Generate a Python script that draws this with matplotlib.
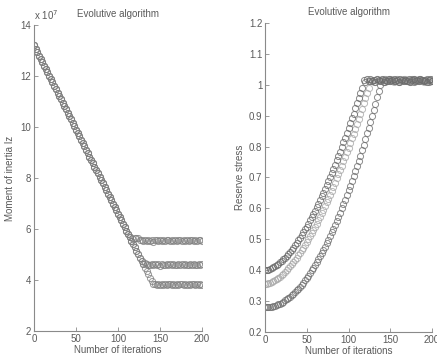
import matplotlib
matplotlib.use("Agg")
import matplotlib.pyplot as plt

plt.rcParams['font.family'] = ['Liberation Sans', 'DejaVu Sans']

iterations = list(range(0, 201, 2))

# ---- left panel: Moment of inertia Iz (x 10^7) ----
l1_slope = [13.20, 13.07, 12.94, 12.80, 12.67, 12.54, 12.41, 12.28, 12.14, 12.01,
            11.88, 11.75, 11.62, 11.48, 11.35, 11.22, 11.09, 10.96, 10.82, 10.69,
            10.56, 10.43, 10.30, 10.16, 10.03, 9.90, 9.77, 9.64, 9.50, 9.37,
            9.24, 9.11, 8.98, 8.84, 8.71, 8.58, 8.45, 8.32, 8.18, 8.05,
            7.92, 7.79, 7.66, 7.52, 7.39, 7.26, 7.13, 7.00, 6.86, 6.73,
            6.60, 6.47, 6.34, 6.20, 6.07, 5.94, 5.81, 5.68, 5.54,
            5.60, 5.64, 5.66, 5.63, 5.58]
l1_plateau = [5.55, 5.52, 5.57, 5.54, 5.58, 5.53, 5.56, 5.51, 5.57, 5.55,
              5.53, 5.58, 5.54, 5.56, 5.52, 5.57, 5.55, 5.53, 5.58, 5.54,
              5.56, 5.52, 5.57, 5.55, 5.53, 5.56, 5.54, 5.58, 5.52, 5.55,
              5.57, 5.53, 5.56, 5.54, 5.57, 5.55, 5.53]

l2_slope = [13.20, 13.07, 12.94, 12.80, 12.67, 12.54, 12.41, 12.28, 12.14, 12.01,
            11.88, 11.75, 11.62, 11.48, 11.35, 11.22, 11.09, 10.96, 10.82, 10.69,
            10.56, 10.43, 10.30, 10.16, 10.03, 9.90, 9.77, 9.64, 9.50, 9.37,
            9.24, 9.11, 8.98, 8.84, 8.71, 8.58, 8.45, 8.32, 8.18, 8.05,
            7.92, 7.79, 7.66, 7.52, 7.39, 7.26, 7.13, 7.00, 6.86, 6.73,
            6.60, 6.47, 6.34, 6.20, 6.07, 5.94, 5.81, 5.68, 5.54, 5.41,
            5.28, 5.15, 5.02, 4.88, 4.75, 4.62,
            4.66, 4.64]
l2_plateau = [4.60, 4.57, 4.62, 4.59, 4.63, 4.58, 4.61, 4.56, 4.62, 4.60,
              4.58, 4.63, 4.59, 4.61, 4.57, 4.62, 4.60, 4.58, 4.63, 4.59,
              4.61, 4.57, 4.62, 4.60, 4.58, 4.61, 4.59, 4.63, 4.57, 4.60,
              4.62, 4.58, 4.61]

l3_slope = [13.20, 13.07, 12.94, 12.80, 12.67, 12.54, 12.41, 12.28, 12.14, 12.01,
            11.88, 11.75, 11.62, 11.48, 11.35, 11.22, 11.09, 10.96, 10.82, 10.69,
            10.56, 10.43, 10.30, 10.16, 10.03, 9.90, 9.77, 9.64, 9.50, 9.37,
            9.24, 9.11, 8.98, 8.84, 8.71, 8.58, 8.45, 8.32, 8.18, 8.05,
            7.92, 7.79, 7.66, 7.52, 7.39, 7.26, 7.13, 7.00, 6.86, 6.73,
            6.60, 6.47, 6.34, 6.20, 6.07, 5.94, 5.81, 5.68, 5.54, 5.41,
            5.28, 5.15, 5.02, 4.88, 4.75, 4.62, 4.49, 4.36, 4.22, 4.09,
            3.96, 3.83]
l3_plateau = [3.83, 3.80, 3.85, 3.82, 3.86, 3.81, 3.84, 3.79, 3.85, 3.83,
              3.81, 3.86, 3.82, 3.84, 3.80, 3.85, 3.83, 3.81, 3.86, 3.82,
              3.84, 3.80, 3.85, 3.83, 3.81, 3.84, 3.82, 3.86, 3.80]

# ---- right panel: Reserve stress ----
r1_rise = [0.400, 0.401, 0.402, 0.404, 0.406, 0.409, 0.412, 0.416, 0.420, 0.425,
           0.430, 0.435, 0.441, 0.447, 0.453, 0.459, 0.466, 0.473, 0.481, 0.489,
           0.497, 0.505, 0.514, 0.523, 0.532, 0.541, 0.551, 0.561, 0.571, 0.582,
           0.593, 0.604, 0.615, 0.627, 0.639, 0.651, 0.663, 0.675, 0.688, 0.701,
           0.714, 0.728, 0.742, 0.756, 0.770, 0.784, 0.799, 0.814, 0.829, 0.844,
           0.859, 0.875, 0.891, 0.907, 0.924, 0.940, 0.957, 0.974, 0.991]
r1_plateau = [1.015, 1.010, 1.018, 1.013, 1.020, 1.011, 1.016, 1.009, 1.019, 1.014,
              1.012, 1.018, 1.010, 1.016, 1.013, 1.020, 1.011, 1.015, 1.018, 1.012,
              1.017, 1.010, 1.019, 1.014, 1.011, 1.016, 1.013, 1.020, 1.010, 1.015,
              1.018, 1.012, 1.016, 1.011, 1.019, 1.014, 1.012, 1.017, 1.010, 1.015,
              1.018, 1.013]

r2_rise = [0.355, 0.356, 0.357, 0.359, 0.361, 0.364, 0.367, 0.371, 0.375, 0.379,
           0.384, 0.389, 0.394, 0.400, 0.406, 0.412, 0.419, 0.426, 0.433, 0.440,
           0.448, 0.456, 0.464, 0.473, 0.482, 0.491, 0.500, 0.510, 0.520, 0.530,
           0.540, 0.551, 0.562, 0.573, 0.584, 0.596, 0.608, 0.620, 0.632, 0.644,
           0.657, 0.670, 0.683, 0.697, 0.710, 0.724, 0.738, 0.752, 0.767, 0.782,
           0.796, 0.812, 0.827, 0.842, 0.858, 0.874, 0.890, 0.906, 0.923, 0.940,
           0.957, 0.974, 0.991]
r2_plateau = [1.012, 1.017, 1.009, 1.015, 1.020, 1.011, 1.016, 1.013, 1.019, 1.010,
              1.014, 1.018, 1.012, 1.016, 1.009, 1.015, 1.019, 1.013, 1.017, 1.011,
              1.015, 1.020, 1.012, 1.016, 1.010, 1.014, 1.018, 1.013, 1.016, 1.011,
              1.019, 1.014, 1.010, 1.017, 1.013, 1.015, 1.011, 1.018]

r3_rise = [0.280, 0.280, 0.281, 0.281, 0.282, 0.284, 0.285, 0.287, 0.290, 0.292,
           0.295, 0.298, 0.302, 0.306, 0.310, 0.314, 0.319, 0.324, 0.329, 0.335,
           0.340, 0.347, 0.353, 0.360, 0.367, 0.375, 0.382, 0.390, 0.399, 0.407,
           0.416, 0.425, 0.435, 0.445, 0.455, 0.465, 0.476, 0.487, 0.498, 0.510,
           0.522, 0.534, 0.547, 0.560, 0.573, 0.586, 0.600, 0.614, 0.628, 0.643,
           0.658, 0.673, 0.689, 0.705, 0.721, 0.737, 0.754, 0.771, 0.789, 0.806,
           0.824, 0.843, 0.861, 0.880, 0.899, 0.919, 0.939, 0.959, 0.979, 1.000]
r3_plateau = [1.014, 1.010, 1.018, 1.012, 1.016, 1.020, 1.011, 1.015, 1.013, 1.019,
              1.010, 1.016, 1.012, 1.018, 1.014, 1.011, 1.017, 1.013, 1.020, 1.010,
              1.015, 1.012, 1.018, 1.014, 1.011, 1.016, 1.013, 1.019, 1.010, 1.015,
              1.012]

left_yticks = [2, 4, 6, 8, 10, 12, 14]
right_yticks = [0.2, 0.3, 0.4, 0.5, 0.6, 0.7, 0.8, 0.9, 1.0, 1.1, 1.2]
right_yticklabels = ['0.2', '0.3', '0.4', '0.5', '0.6', '0.7', '0.8', '0.9', '1', '1.1', '1.2']
xticks = [0, 50, 100, 150, 200]

TEXT = '#5a5a5a'
AXC = '#8a8a8a'
FS = 7

fig = plt.figure(figsize=(4.37, 3.62), dpi=100)
fig.patch.set_facecolor('white')
axL = fig.add_axes([0.0778, 0.0856, 0.3844, 0.8453])
axR = fig.add_axes([0.6064, 0.0829, 0.3822, 0.8536])


def style(ax):
    for s in ['top', 'right']:
        ax.spines[s].set_visible(False)
    for s in ['left', 'bottom']:
        ax.spines[s].set_color(AXC)
        ax.spines[s].set_linewidth(0.8)
    ax.tick_params(direction='in', length=3, width=0.6, colors=AXC,
                   labelcolor=TEXT, labelsize=FS, pad=2)
    ax.set_xlim(0, 200)
    ax.set_xticks(xticks)
    ax.set_xlabel('Number of iterations', fontsize=FS, color=TEXT, labelpad=1)
    ax.set_title('Evolutive algorithm', fontsize=FS, color=TEXT, pad=6)


def draw(ax, ys, color):
    ax.plot(iterations[:len(ys)], ys, linestyle='none', marker='o',
            markersize=4.4, markerfacecolor='none', markeredgecolor=color,
            markeredgewidth=0.7, alpha=0.8)


draw(axL, l1_slope + l1_plateau, '#808080')
draw(axL, l2_slope + l2_plateau, '#808080')
draw(axL, l3_slope + l3_plateau, '#808080')
style(axL)
axL.set_ylim(2, 14)
axL.set_yticks(left_yticks)
axL.set_ylabel('Moment of inertia Iz', fontsize=FS, color=TEXT, labelpad=4)
axL.text(0.0, 1.01, r'x 10$^7$', transform=axL.transAxes, fontsize=FS,
         color=TEXT, ha='left', va='bottom')

draw(axR, r3_rise + r3_plateau, '#707070')
draw(axR, r2_rise + r2_plateau, '#a8a8a8')
draw(axR, r1_rise + r1_plateau, '#6a6a6a')
style(axR)
axR.set_ylim(0.2, 1.2)
axR.set_yticks(right_yticks)
axR.set_yticklabels(right_yticklabels)
axR.set_ylabel('Reserve stress', fontsize=FS, color=TEXT, labelpad=3)

fig.savefig('out.png', dpi=100, facecolor='white')
